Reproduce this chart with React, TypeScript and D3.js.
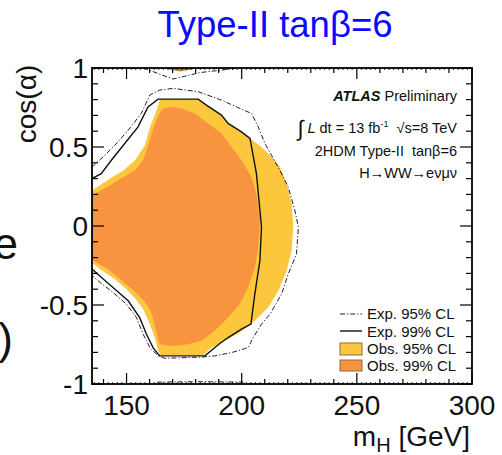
import * as d3 from 'd3'

// contours: [mH (GeV), cos(alpha)]
const obs95Contour: [number, number][] = [
  [135, 0.225], [142.8, 0.3], [148.6, 0.352], [153.7, 0.416], [158.0, 0.511], [160.2, 0.627],
  [163.1, 0.733], [164.5, 0.803], [181.1, 0.803], [184.7, 0.765], [191.2, 0.702], [194.1, 0.649],
  [199.9, 0.596], [203.6, 0.554], [208.6, 0.5], [213.0, 0.437], [216.6, 0.373], [219.5, 0.268],
  [221.7, 0.141], [222.4, -0.008], [221.7, -0.156], [219.5, -0.283], [215.9, -0.41], [211.5, -0.516],
  [205.7, -0.6], [199.2, -0.674], [192.7, -0.727], [186.9, -0.77], [183.3, -0.816], [164.9, -0.816],
  [163.7, -0.79], [162.3, -0.706], [160.1, -0.621], [157.2, -0.526], [153.6, -0.456], [149.9, -0.399],
  [144.9, -0.335], [139.0, -0.278], [135, -0.232],
]

const obs99Contour: [number, number][] = [
  [135, 0.194], [142.8, 0.257], [148.6, 0.31], [153.7, 0.352], [157.2, 0.416], [158.9, 0.492],
  [160.7, 0.575], [162.4, 0.651], [164.1, 0.708], [165.9, 0.743], [169.3, 0.754], [173.8, 0.744],
  [179.7, 0.712], [185.4, 0.649], [191.2, 0.585], [195.6, 0.5], [199.9, 0.416], [204.3, 0.31],
  [206.4, 0.204], [207.9, 0.035], [207.2, -0.135], [205.7, -0.262], [202.8, -0.389], [199.2, -0.494],
  [194.1, -0.579], [188.3, -0.663], [182.5, -0.727], [176.7, -0.748], [169.5, -0.759], [164.4, -0.748],
  [163.2, -0.684], [161.8, -0.6], [160.4, -0.537], [157.6, -0.473], [153.2, -0.41], [148.0, -0.346],
  [142.2, -0.275], [137.6, -0.235], [135, -0.213],
]

const exp99Contour: [number, number][] = [
  [135, 0.3], [139.0, 0.331], [143.4, 0.416], [149.2, 0.522], [155.0, 0.627], [159.3, 0.754],
  [163.7, 0.803], [181.1, 0.803], [184.7, 0.765], [191.2, 0.702], [194.1, 0.649], [199.9, 0.596],
  [203.6, 0.554], [206.4, 0.331], [208.6, -0.008], [207.9, -0.219], [205.7, -0.431], [204.0, -0.621],
  [199.9, -0.653], [194.1, -0.706], [190.5, -0.744], [184.0, -0.822], [164.4, -0.822], [161.5, -0.77],
  [158.6, -0.684], [155.7, -0.579], [150.7, -0.473], [144.1, -0.389], [139.0, -0.325], [135, -0.272],
]

const exp95Contour: [number, number][] = [
  [135, 0.373], [139.8, 0.437], [144.9, 0.511], [150.7, 0.606], [156.4, 0.712], [160.1, 0.829],
  [164.4, 0.86], [170.2, 0.871], [181.1, 0.85], [191.2, 0.797], [197.7, 0.754], [204.3, 0.712],
  [207.2, 0.627], [210.1, 0.522], [216.6, 0.352], [220.2, 0.246], [223.1, 0.098], [224.6, -0.008],
  [223.8, -0.177], [220.2, -0.304], [217.3, -0.431], [212.3, -0.558], [208.6, -0.621], [205.0, -0.706],
  [202.8, -0.77], [195.6, -0.801], [188.3, -0.822], [183.3, -0.829], [166.6, -0.837], [163.7, -0.822],
  [160.1, -0.769], [157.2, -0.685], [154.3, -0.579], [149.9, -0.494], [144.1, -0.42], [139.0, -0.363],
  [135, -0.314],
]

const exp95TopArc: [number, number][] = [[157.2, 1.0], [170.2, 0.93], [181.9, 0.971], [199, 1.0]]
const exp95BottomArc: [number, number][] = [[163.3, -0.988], [182, -0.985], [200.7, -0.988]]
const obsTopIsland: [number, number][] = [[164.6, 1.0], [173.3, 0.978], [182, 1.0]]

const xMajorTicks = [150, 200, 250, 300]
const yMajorTicks = [-1, -0.5, 0, 0.5, 1]
const yTickLabels = ['-1', '-0.5', '0', '0.5', '1']
const legendLabels = ['Exp. 95% CL', 'Exp. 99% CL', 'Obs. 95% CL', 'Obs. 99% CL']

const YELLOW = '#fdc73d'
const ORANGE = '#f8943f'
const FONT = 'Liberation Sans, Arial, Helvetica, sans-serif'
const DASHDOT = '5 2 1.2 2'

export default function App() {
  const width = 502
  const height = 455
  const x = d3.scaleLinear().domain([135, 300]).range([92, 472])
  const y = d3.scaleLinear().domain([-1, 1]).range([384, 68])
  const line = d3.line<[number, number]>().x((d) => x(d[0])).y((d) => y(d[1]))

  const [x0, x1] = x.range()
  const [y0, y1] = y.range()

  const xMinor = d3.range(140, 300, 10).filter((v) => v % 50 !== 0)
  const xTiny = d3.range(136, 300, 2).filter((v) => v % 10 !== 0)
  const yMinor = d3.range(-9, 10).filter((v) => v % 5 !== 0).map((v) => v / 10)

  const annRight = 457

  return (
    <svg
      width={width}
      height={height}
      style={{ position: 'absolute', left: 0, top: 0, background: '#fff' }}
      fontFamily={FONT}
    >
      <defs>
        <clipPath id="plot">
          <rect x={x0} y={y1} width={x1 - x0} height={y0 - y1} />
        </clipPath>
      </defs>

      {/* slide title and cut-off slide text */}
      <text x={275} y={37} fontSize={36.5} fill="#0a0aff" textAnchor="middle">
        Type-II tanβ=6
      </text>
      <text x={18} y={259} fontSize={44} textAnchor="end" fill="#111">e</text>
      <text x={13} y={354} fontSize={44} textAnchor="end" fill="#111">)</text>

      <g clipPath="url(#plot)">
        <path d={line(obs95Contour) + 'Z'} fill={YELLOW} />
        <path d={line(obs99Contour) + 'Z'} fill={ORANGE} />
        <path d={line(obsTopIsland) + 'Z'} fill="#b8892e" />
        <path d={line(exp99Contour) ?? ''} fill="none" stroke="#111" strokeWidth={1.4} />
        <path d={line(exp95Contour) ?? ''} fill="none" stroke="#222" strokeWidth={1} strokeDasharray={DASHDOT} />
        <path d={line(exp95TopArc) ?? ''} fill="none" stroke="#222" strokeWidth={1} strokeDasharray={DASHDOT} />
        <path d={line(exp95BottomArc) ?? ''} fill="none" stroke="#222" strokeWidth={1} strokeDasharray={DASHDOT} />
      </g>

      {/* ticks */}
      <g stroke="#000" strokeWidth={1.2}>
        {xMajorTicks.map((v) => (
          <g key={'xM' + v}>
            <line x1={x(v)} x2={x(v)} y1={y0} y2={y0 - 11} />
            <line x1={x(v)} x2={x(v)} y1={y1} y2={y1 + 11} />
          </g>
        ))}
        {xMinor.map((v) => (
          <g key={'xm' + v}>
            <line x1={x(v)} x2={x(v)} y1={y0} y2={y0 - 5} />
            <line x1={x(v)} x2={x(v)} y1={y1} y2={y1 + 5} />
          </g>
        ))}
        {xTiny.map((v) => (
          <g key={'xt' + v}>
            <line x1={x(v)} x2={x(v)} y1={y0} y2={y0 - 2} strokeWidth={0.8} />
            <line x1={x(v)} x2={x(v)} y1={y1} y2={y1 + 2} strokeWidth={0.8} />
          </g>
        ))}
        {yMajorTicks.map((v) => (
          <g key={'yM' + v}>
            <line x1={x0} x2={x0 + 12} y1={y(v)} y2={y(v)} />
            <line x1={x1} x2={x1 - 12} y1={y(v)} y2={y(v)} />
          </g>
        ))}
        {yMinor.map((v) => (
          <g key={'ym' + v}>
            <line x1={x0} x2={x0 + 6} y1={y(v)} y2={y(v)} />
            <line x1={x1} x2={x1 - 6} y1={y(v)} y2={y(v)} />
          </g>
        ))}
      </g>
      <rect x={x0} y={y1} width={x1 - x0} height={y0 - y1} fill="none" stroke="#000" strokeWidth={1.8} />

      {/* tick labels */}
      {xMajorTicks.map((v) => (
        <text key={'xl' + v} x={x(v)} y={415} fontSize={28} textAnchor="middle" fill="#111">
          {v}
        </text>
      ))}
      {yMajorTicks.map((v, i) => (
        <text key={'yl' + v} x={88} y={y(v) + 10} fontSize={28} textAnchor="end" fill="#111">
          {yTickLabels[i]}
        </text>
      ))}

      {/* axis titles */}
      <text transform="translate(36,104) rotate(-90)" fontSize={28} textAnchor="middle" fill="#111">
        cos(α)
      </text>
      <text x={470} y={446} fontSize={28} textAnchor="end" fill="#111">
        m<tspan fontSize={20} dy={6}>H</tspan>
        <tspan dy={-6}>{'\u00a0[GeV]'}</tspan>
      </text>

      {/* ATLAS annotation */}
      <g fontSize={14.5} fill="#111" textAnchor="end">
        <text x={annRight} y={101}>
          <tspan fontWeight="bold" fontStyle="italic">ATLAS</tspan> Preliminary
        </text>
        <text x={annRight} y={133}>
          <tspan fontSize={22} dy={3}>∫</tspan>
          <tspan dy={-3} fontStyle="italic">{'\u00a0L'}</tspan> dt = 13 fb
          <tspan fontSize={9} dy={-6}>-1</tspan>
          <tspan dy={6}>{'\u00a0\u00a0√s=8 TeV'}</tspan>
        </text>
        <text x={annRight} y={156}>{'2HDM Type-II\u00a0\u00a0tanβ=6'}</text>
        <text x={annRight} y={178}>H→WW→eνμν</text>
      </g>

      {/* legend */}
      <g fontSize={15} fill="#111">
        <line x1={340} x2={362} y1={314} y2={314} stroke="#222" strokeWidth={1} strokeDasharray={DASHDOT} />
        <line x1={340} x2={362} y1={331} y2={331} stroke="#111" strokeWidth={1.4} />
        <rect x={340} y={343} width={22} height={12} fill={YELLOW} stroke="#8a6d3b" strokeWidth={1} />
        <rect x={340} y={360} width={22} height={11} fill={ORANGE} stroke="#8a6d3b" strokeWidth={1} />
        {legendLabels.map((t, i) => (
          <text key={t} x={367} y={[319, 337, 354, 371][i]}>
            {t}
          </text>
        ))}
      </g>
    </svg>
  )
}
